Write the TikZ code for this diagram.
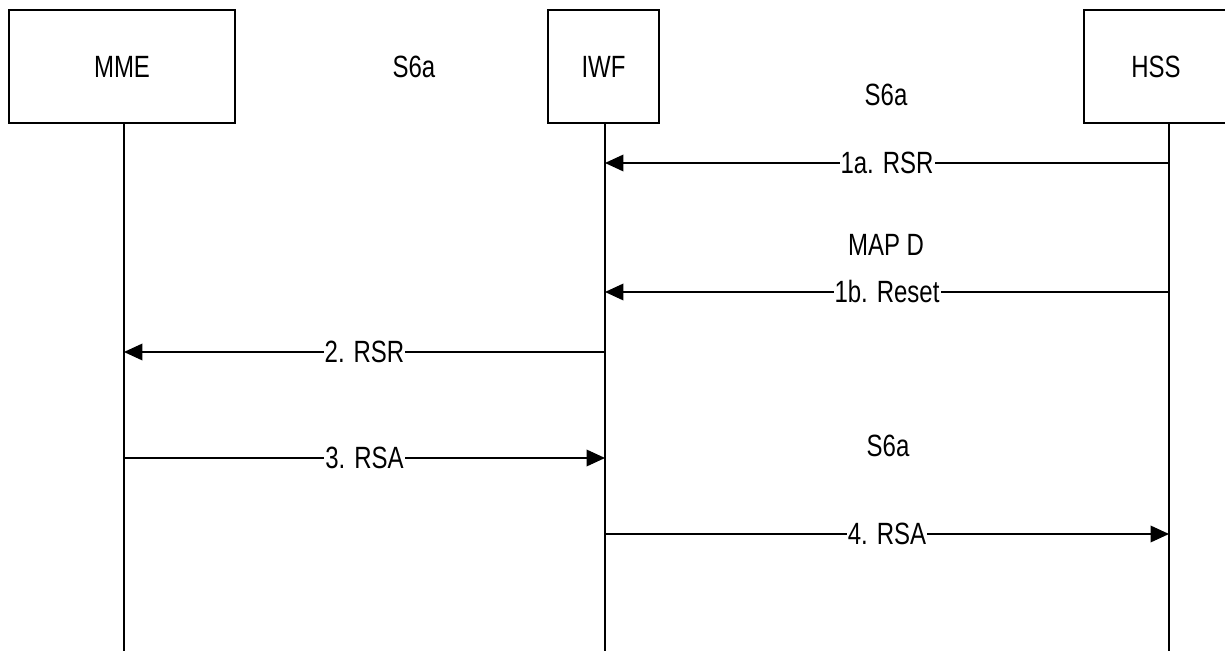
\documentclass[tikz,border=0pt]{standalone}
\usepackage{fontspec}
\setmainfont[FakeStretch=0.78]{Liberation Sans}
\usetikzlibrary{arrows.meta}
\tikzset{
  entity/.style={draw, line width=0.7pt, minimum height=113*0.2mm, inner sep=0pt},
  lifeline/.style={line width=0.7pt},
  msg/.style={line width=0.7pt, -{Triangle[length=10.5pt,width=9.5pt]}},
  msglabel/.style={fill=white, inner sep=0.6pt},
  iface/.style={inner sep=0pt}
}
\begin{document}
\begin{tikzpicture}[x=0.2mm,y=-0.2mm, font=\fontsize{17.5}{21}\selectfont]
\useasboundingbox (0,0) rectangle (1225,651);
% entities
\node[entity, minimum width=226*0.2mm] (mme) at (122,66.5) {MME};
\node[entity, minimum width=111*0.2mm] (iwf) at (603.5,66.5) {IWF};
\node[entity, minimum width=144*0.2mm] (hss) at (1156,66.5) {HSS};
% lifelines
\coordinate (mmeTop) at (124,123);
\coordinate (mmeEnd) at (124,651);
\coordinate (iwfTop) at (605,123);
\coordinate (iwfEnd) at (605,651);
\coordinate (hssTop) at (1169,123);
\coordinate (hssEnd) at (1169,651);
\draw[lifeline] (mmeTop) -- (mmeEnd);
\draw[lifeline] (iwfTop) -- (iwfEnd);
\draw[lifeline] (hssTop) -- (hssEnd);
% interface labels
\node[iface] (s6aTop) at (414,67) {S6a};
\node[iface] (s6aHss) at (886,95) {S6a};
\node[iface] (mapd) at (886,245) {MAP D};
\node[iface] (s6aLow) at (888,446) {S6a};
% message end points
\coordinate (hss1a) at (1169,163);
\coordinate (iwf1a) at (605,163);
\coordinate (hss1b) at (1169,292);
\coordinate (iwf1b) at (605,292);
\coordinate (iwf2) at (605,352);
\coordinate (mme2) at (124,352);
\coordinate (mme3) at (124,458);
\coordinate (iwf3) at (605,458);
\coordinate (iwf4) at (605,534);
\coordinate (hss4) at (1169,534);
% messages
\draw[msg] (hss1a) -- node[msglabel] (m1a) {1a. RSR} (iwf1a);
\draw[msg] (hss1b) -- node[msglabel] (m1b) {1b. Reset} (iwf1b);
\draw[msg] (iwf2) -- node[msglabel] (m2) {2. RSR} (mme2);
\draw[msg] (mme3) -- node[msglabel] (m3) {3. RSA} (iwf3);
\draw[msg] (iwf4) -- node[msglabel] (m4) {4. RSA} (hss4);
\end{tikzpicture}
\end{document}
